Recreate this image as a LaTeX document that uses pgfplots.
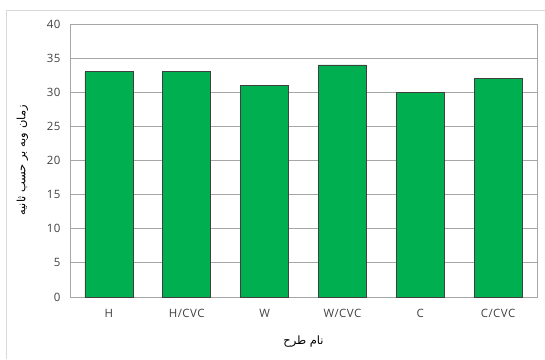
\documentclass[border=0pt]{standalone}
\usepackage{fontspec}
\setmainfont{Open Sans}[LetterSpace=4]
\newfontfamily\arabicfont[Script=Arabic]{DejaVu Sans}
\TeXXeTstate=1
\usepackage{pgfplots}
\pgfplotsset{compat=1.18}
\usetikzlibrary{calc}
\definecolor{barGreen}{HTML}{00B050}
\definecolor{gridGray}{HTML}{A6A6A6}
\definecolor{frameGray}{HTML}{D9D9D9}
\definecolor{textGray}{HTML}{404040}
\begin{document}
\begin{tikzpicture}[x=1bp,y=1bp]
\begin{axis}[
  scale only axis, width=467bp, height=273bp,
  ymin=0, ymax=40, ytick={0,5,...,40},
  xmin=-0.5, xmax=5.5,
  xtick={0,...,5},
  xticklabels={H,H/CVC,W,W/CVC,C,C/CVC},
  ybar, bar width=48bp,
  ymajorgrids, grid style={gridGray,line width=0.8bp},
  axis line style={gridGray,line width=0.8bp},
  major tick length=0pt,
  tick label style={font=\fontsize{11.5}{13}\selectfont, text=textGray},
  yticklabel style={xshift=-6bp},
  xticklabel style={yshift=-9bp},
  /pgf/number format/assume math mode=true,
  xlabel={\arabicfont\fontsize{11.5}{13}\selectfont\beginR نام طرح\endR},
  xlabel style={text=black, yshift=-11bp},
  ylabel={\arabicfont\fontsize{11.5}{13}\selectfont\beginR زمان وبه بر حسب ثانیه\endR},
  ylabel style={text=black, yshift=12bp},
]
\addplot[fill=barGreen, draw=black!75, line width=0.6bp] coordinates {
  (0,33) (1,33) (2,31) (3,34) (4,30) (5,32)
};
\coordinate (ll) at (rel axis cs:0,0);
\end{axis}
% page extent and the outer chart border, measured from the plot box corner
\path[use as bounding box] ($(ll)+(-70,-62)$) rectangle ++(545,359);
\draw[frameGray,line width=1bp] ($(ll)+(-63,-62)$) -- ++(0,349) -- ++(538,0);
\end{tikzpicture}
\end{document}
